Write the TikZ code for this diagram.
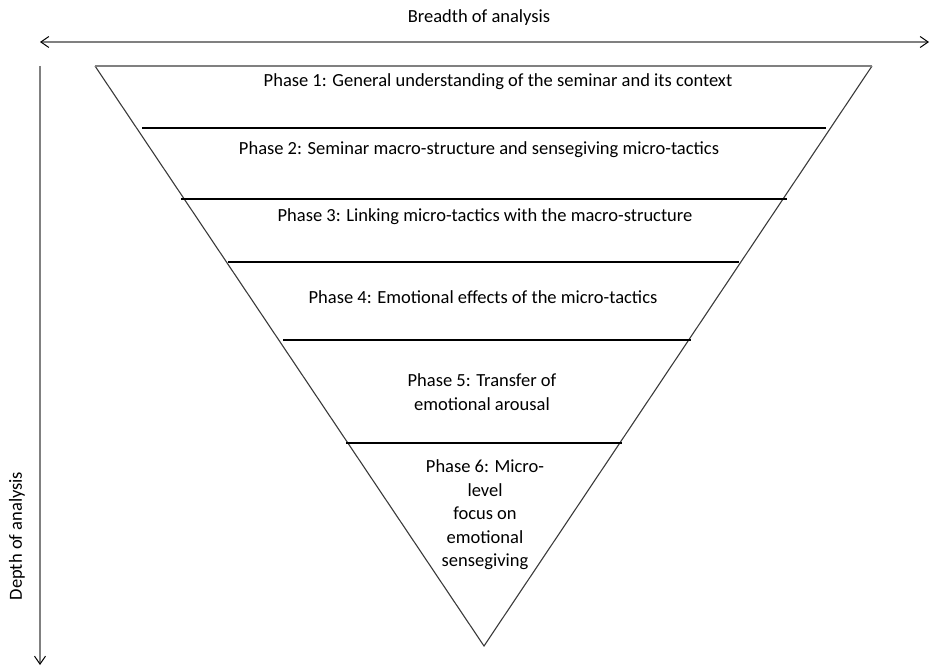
\documentclass[tikz,border=0pt]{standalone}
\usepackage{fontspec}
\setmainfont{Carlito}
\usetikzlibrary{arrows.meta}
\definecolor{axisgrey}{HTML}{808080}
\definecolor{edgegrey}{HTML}{3A3A3A}
\begin{document}
\begin{tikzpicture}[x=1pt,y=-1pt,
  axis/.style={draw=axisgrey,line width=1.8pt,
    arrows={-Straight Barb[length=8pt,width=11pt,line width=1pt,color=black]}},
  funnel/.style={draw=edgegrey,line width=1.1pt},
  topedge/.style={draw=axisgrey,line width=2pt},
  divider/.style={draw=black,line width=2.2pt},
  phase/.style={font=\fontsize{18.5}{23.5}\selectfont,align=center,inner sep=0pt},
  axislabel/.style={font=\fontsize{18.5}{20}\selectfont,inner sep=0pt}]
\useasboundingbox (0,0) rectangle (936,666);

% axes
\coordinate (bl) at (40,42);
\coordinate (br) at (929,42);
\coordinate (dt) at (40,66);
\coordinate (db) at (40,665);
\draw[axis,arrows={Straight Barb[length=8pt,width=11pt,line width=1pt,color=black]-Straight Barb[length=8pt,width=11pt,line width=1pt,color=black]}] (bl) -- (br);
\draw[axis] (dt) -- (db);
\node[axislabel] (breadth) at (479,18) {Breadth of analysis};
\node[axislabel,rotate=90] (depth) at (17,536) {Depth of analysis};

% inverted triangle
\coordinate (tl) at (95,66);
\coordinate (tr) at (872,66);
\coordinate (apex) at (484,646);
\draw[funnel] (tl) -- (apex) -- (tr);
\draw[topedge] (tl) -- (tr);

% phase dividers
\coordinate (d1l) at (142,128);   \coordinate (d1r) at (826,128);
\coordinate (d2l) at (181,199);   \coordinate (d2r) at (787,199);
\coordinate (d3l) at (228,262);   \coordinate (d3r) at (739,262);
\coordinate (d4l) at (283,340);   \coordinate (d4r) at (691,340);
\coordinate (d5l) at (346,443);   \coordinate (d5r) at (622,443);
\draw[divider] (d1l) -- (d1r);
\draw[divider] (d2l) -- (d2r);
\draw[divider] (d3l) -- (d3r);
\draw[divider] (d4l) -- (d4r);
\draw[divider] (d5l) -- (d5r);

% phase labels
\node[phase] (p1) at (498,82) {Phase 1: General understanding of the seminar and its context};
\node[phase] (p2) at (479,150) {Phase 2: Seminar macro-structure and sensegiving micro-tactics};
\node[phase] (p3) at (485,217) {Phase 3: Linking micro-tactics with the macro-structure};
\node[phase] (p4) at (483,297) {Phase 4: Emotional effects of the micro-tactics};
\node[phase] (p5) at (482,392) {Phase 5: Transfer of\\emotional arousal};
\node[phase] (p6) at (485,515) {Phase 6: Micro-\\level\\focus on\\emotional\\sensegiving};
\end{tikzpicture}
\end{document}
